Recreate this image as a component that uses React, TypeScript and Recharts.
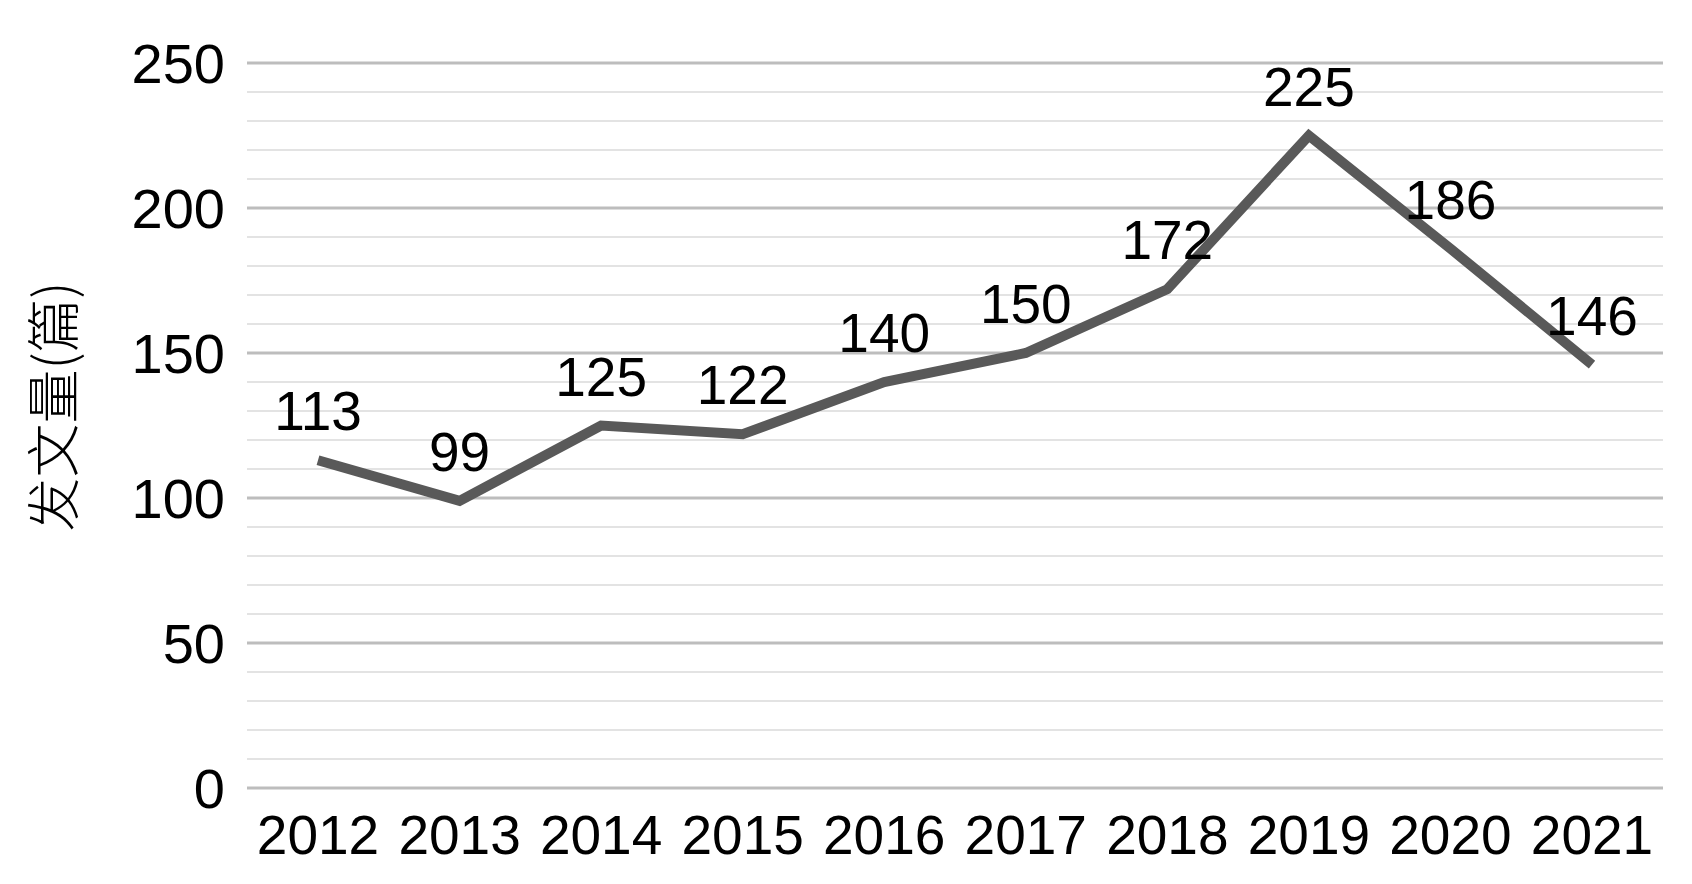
import React from 'react';
import { LineChart, Line, XAxis, YAxis, CartesianGrid, LabelList, Label, ReferenceLine } from 'recharts';

const years = ['2012', '2013', '2014', '2015', '2016', '2017', '2018', '2019', '2020', '2021'];
const counts = [113, 99, 125, 122, 140, 150, 172, 225, 186, 146];
const majorTicks = [0, 50, 100, 150, 200, 250];
const minorTicks = [10, 20, 30, 40, 60, 70, 80, 90, 110, 120, 130, 140, 160, 170, 180, 190, 210, 220, 230, 240];
const yTitle = '发文量(篇)';

const data = years.map((y, i) => ({ year: y, value: counts[i] }));

const FONT = '"Liberation Sans", Arial, sans-serif';

const YTitle = (props: any) => {
  const vb = props.viewBox || {};
  const cx = vb.x + 50;
  const cy = vb.y + vb.height / 2 - 19;
  return (
    <text
      x={cx}
      y={cy}
      transform={`rotate(-90, ${cx}, ${cy})`}
      textAnchor="middle"
      dominantBaseline="central"
      fontFamily='"Noto Sans CJK SC", sans-serif'
      fontWeight={300}
      fontSize={54}
      fill="#000"
    >
      {yTitle}
    </text>
  );
};

export default function App() {
  return (
    <div style={{ position: 'absolute', left: 0, top: 0, width: 1692, height: 884, background: '#fff' }}>
      <LineChart width={1692} height={884} data={data} margin={{ top: 63, right: 29, bottom: 0, left: 0 }}>
        {minorTicks.map((v) => (
          <ReferenceLine key={v} y={v} stroke="#e3e3e3" strokeWidth={2} />
        ))}
        <CartesianGrid vertical={false} stroke="#bdbdbd" strokeWidth={3} />
        <XAxis
          dataKey="year"
          padding={{ left: 71, right: 71 }}
          height={96}
          tickSize={0}
          tickMargin={27}
          axisLine={false}
          tickLine={false}
          interval={0}
          tick={{ fontFamily: FONT, fontSize: 55, fill: '#000' }}
        />
        <YAxis
          domain={[0, 250]}
          ticks={majorTicks}
          width={247}
          tickSize={0}
          tickMargin={22}
          axisLine={false}
          tickLine={false}
          tick={{ fontFamily: FONT, fontSize: 56, fill: '#000' }}
        >
          <Label content={YTitle} />
        </YAxis>
        <Line
          type="linear"
          dataKey="value"
          stroke="#595959"
          strokeWidth={10}
          dot={false}
          isAnimationActive={false}
          strokeLinejoin="miter"
        >
          <LabelList dataKey="value" position="top" offset={30} style={{ fontFamily: FONT, fontSize: 55, fill: '#000' }} />
        </Line>
      </LineChart>
    </div>
  );
}
